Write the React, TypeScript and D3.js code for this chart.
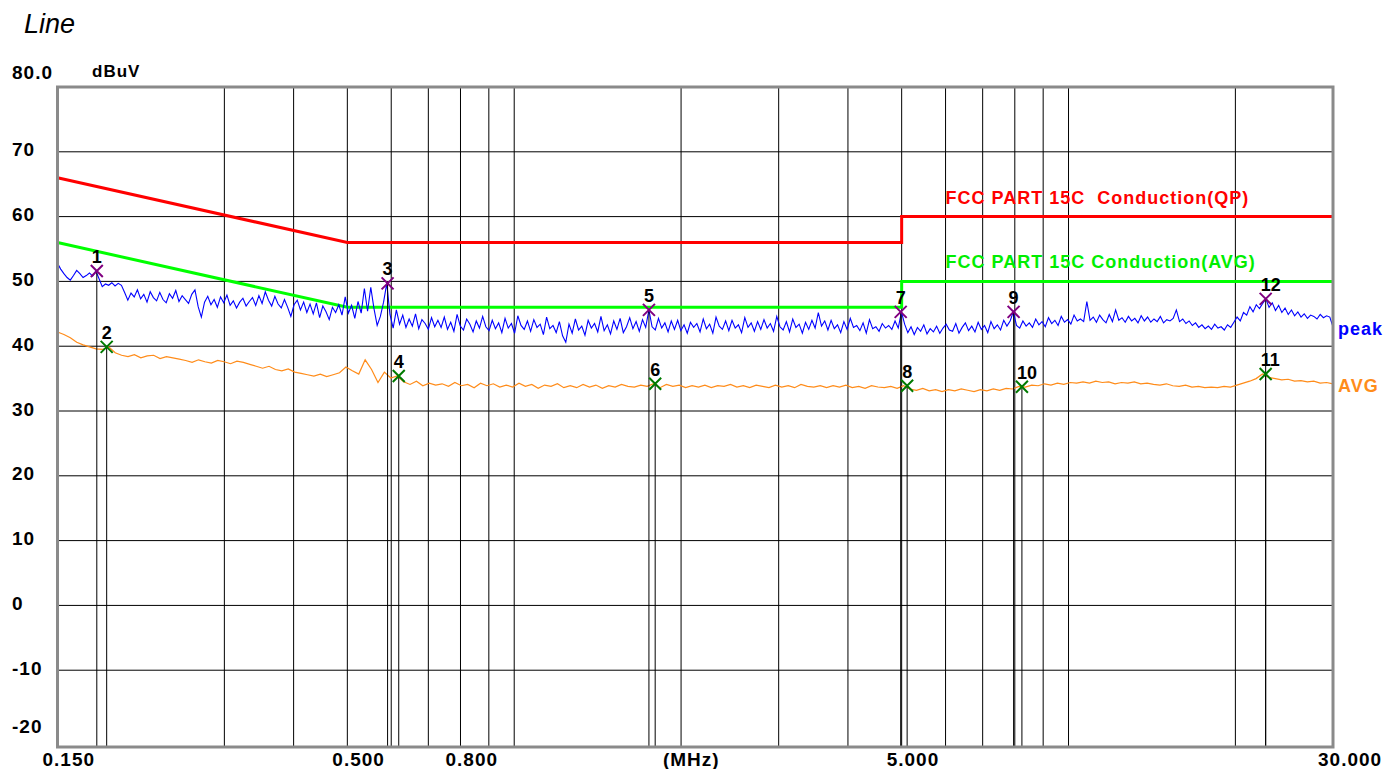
import React, { useEffect, useRef } from 'react';
import * as d3 from 'd3';

// receiver sweep: log-spaced points from 0.15 to 30 MHz
const sweepStart = 0.15;
const sweepStop = 30;

// peak detector trace (dBuV), 400 sweep points
const peakTrace = [
  52.8, 51.9, 51.2, 50.6, 50.2, 50.9, 51.7, 51.2, 50.6, 50.9, 51.3, 50.8, 51.6, 50.4, 49.2, 49.6, 49.4, 49.8, 49.3, 49.7,
  49.4, 48.3, 47.1, 48.2, 47.6, 48.7, 47.3, 48.0, 46.8, 48.4, 47.5, 47.0, 48.3, 47.2, 46.7, 48.1, 47.4, 48.6, 46.9, 47.8,
  47.2, 46.6, 48.0, 48.7, 46.1, 44.5, 46.8, 47.7, 46.4, 47.2, 46.0, 47.6, 46.7, 47.9, 46.3, 47.0, 45.9, 46.8, 47.4, 46.2,
  46.9, 47.5, 46.3, 47.8, 46.6, 48.4, 47.1, 46.2, 47.7, 46.5, 45.9, 47.2, 46.0, 44.6, 46.4, 47.1, 45.6, 46.8, 45.2, 46.5,
  45.0, 46.7, 44.4, 46.2, 45.3, 44.1, 46.0, 45.2, 46.4, 44.8, 47.6, 45.1, 46.3, 44.3, 46.9, 45.1, 48.9, 45.4, 49.1, 45.8,
  43.2, 44.6, 46.8, 49.7, 44.9, 42.8, 45.6, 43.4, 44.8, 42.9, 44.2, 43.1, 45.0, 42.7, 44.1, 43.5, 42.6, 44.4, 43.0, 44.0,
  42.9, 44.5, 42.6, 43.7, 42.3, 44.9, 43.1, 42.5, 44.2, 43.4, 42.2, 43.9, 42.8, 44.6, 43.0, 42.4, 44.0, 42.7, 43.6, 42.1,
  44.3, 42.8, 43.5, 42.0, 44.7, 43.2, 42.6, 43.9, 42.3, 44.1, 42.9, 43.4, 41.8, 44.5, 42.7, 43.2, 42.1, 43.8, 41.6, 40.6,
  43.4, 42.0, 44.2, 42.5, 43.1, 41.7, 44.0, 42.8, 43.5, 42.2, 44.6, 42.4, 43.3, 41.9, 43.9, 42.6, 44.3, 42.1, 43.0, 44.4,
  42.7, 43.8, 42.3, 44.1, 42.9, 45.6, 43.0, 42.5, 44.3, 42.8, 43.6, 42.2, 43.9, 42.6, 44.0, 42.4, 43.3, 42.0, 43.7, 42.9,
  43.5, 42.2, 44.2, 42.7, 43.4, 42.0, 44.5, 43.1, 42.6, 43.9, 42.4, 44.0, 42.8, 43.3, 42.1, 44.4, 42.9, 43.6, 42.3, 43.8,
  42.6, 44.1, 42.8, 43.5, 42.3, 44.6, 43.0, 42.5, 43.8, 42.2, 44.2, 42.9, 43.4, 42.0, 43.7, 42.6, 44.0, 42.8, 45.2, 43.1,
  43.9, 42.5, 44.0, 42.7, 43.3, 42.1, 43.8, 42.6, 44.3, 42.9, 43.2, 42.4, 43.6, 42.0, 44.1, 42.7, 43.0, 42.3, 43.5, 42.8,
  43.2, 42.6, 43.9, 42.8, 45.3, 43.4, 42.1, 43.0, 41.8, 42.9, 42.3, 43.3, 41.9, 42.7, 42.2, 43.1, 42.0, 42.8, 43.4, 42.5,
  42.3, 43.5, 42.0, 42.9, 43.6, 42.4, 43.1, 42.2, 43.7, 42.6, 43.2, 42.1, 43.8, 42.7, 43.3, 42.5, 44.0, 43.1, 43.9, 45.3,
  43.2, 42.8, 43.9, 43.1, 43.6, 42.9, 44.2, 43.3, 43.8, 43.0, 44.4, 43.5, 44.0, 43.2, 44.6, 43.7, 44.1, 43.4, 44.8, 43.9,
  44.2, 43.8, 46.9, 44.0, 44.5, 43.7, 44.8, 44.1, 43.6, 44.9, 43.8, 45.6, 44.0, 44.4, 43.7, 44.6, 43.9, 44.3, 43.6, 44.7,
  43.9, 44.5, 43.7, 44.2, 43.8, 44.6, 43.6, 44.1, 43.9, 44.3, 45.6, 43.8, 44.2, 43.5, 43.9, 43.2, 43.6, 42.9, 43.3, 42.7,
  43.1, 42.6, 43.4, 42.8, 43.0, 42.5, 43.3, 42.9, 43.7, 44.5, 43.9, 45.2, 44.8, 46.1, 45.3, 46.4, 45.8, 46.6, 47.3, 46.0,
  46.7, 45.5, 46.3, 45.2, 45.9, 44.9, 45.6, 44.7, 45.3, 44.5, 45.0, 44.3, 44.8, 44.6, 44.2, 44.9, 44.4, 44.7, 44.5, 43.0,
];

// average detector trace (dBuV), 200 sweep points
const avgTrace = [
  42.2, 41.8, 41.3, 40.6, 40.2, 39.9, 39.6, 39.5, 39.9, 39.0,
  38.6, 38.4, 38.7, 38.2, 38.5, 38.6, 38.1, 38.4, 38.2, 38.0,
  37.8, 37.5, 37.9, 37.6, 37.4, 37.8, 37.6, 37.3, 37.7, 37.5,
  37.2, 36.9, 36.6, 36.9, 36.4, 36.2, 36.5, 36.0, 35.8, 35.6,
  35.4, 35.7, 35.3, 35.6, 35.9, 36.8, 36.2, 35.7, 37.9, 36.4,
  34.4, 36.0, 35.1, 35.4, 34.5, 34.1, 34.6, 33.9, 34.3, 34.0,
  34.2, 33.8, 34.4, 33.9, 34.1, 33.6, 34.3, 33.9, 34.2, 33.7,
  34.0, 33.7, 34.3, 33.8, 34.1, 33.5, 34.0, 33.8, 34.2, 33.6,
  33.9, 33.6, 34.1, 33.7, 34.0, 33.5, 33.9, 33.7, 34.1, 33.8,
  33.7, 34.0, 33.8, 34.2, 33.6, 34.1, 33.8, 34.0, 33.6, 33.9,
  33.7, 34.0, 33.6, 33.9, 33.8, 34.1, 33.7, 33.9, 33.6, 34.0,
  33.8, 33.6, 34.0, 33.7, 33.9, 33.6, 34.1, 33.8, 33.7, 33.9,
  33.6, 33.9, 33.7, 34.0, 33.6, 33.8, 33.5, 33.9, 33.7, 33.6,
  33.8, 33.5, 33.9, 33.4, 33.2, 33.5, 33.1, 33.3, 33.0, 33.3,
  33.1, 33.4, 33.2, 33.0, 33.3, 33.1, 33.4, 33.2, 33.5, 33.4,
  33.8, 33.7, 34.0, 33.9, 34.2, 34.0, 34.3, 34.1, 34.4, 34.3,
  34.5, 34.3, 34.6, 34.4, 34.5, 34.2, 34.4, 34.3, 34.5, 34.2,
  34.3, 34.1, 34.0, 34.2, 33.9, 33.8, 34.0, 33.7, 33.8, 33.6,
  33.7, 33.6, 33.8, 33.7, 34.0, 34.3, 34.6, 35.0, 35.7, 35.2,
  35.0, 34.8, 34.9, 34.6, 34.7, 34.5, 34.6, 34.3, 34.4, 34.2,
];

// FCC Part 15C conducted limits
const qpLimitFreq = [0.15, 0.5, 5, 5, 30];
const qpLimitLevel = [66, 56, 56, 60, 60];
const avgLimitFreq = [0.15, 0.5, 5, 5, 30];
const avgLimitLevel = [56, 46, 46, 50, 50];

// markers
const markerNo = [1, 2, 3, 4, 5, 6, 7, 8, 9, 10, 11, 12];
const markerFreq = [0.1766, 0.184, 0.591, 0.619, 1.75, 1.796, 4.98, 5.115, 7.96, 8.24, 22.68, 22.68];
const markerLevel = [51.6, 39.9, 49.7, 35.4, 45.6, 34.2, 45.3, 33.9, 45.3, 33.75, 35.7, 47.3];
const markerDetector = ['pk', 'av', 'pk', 'av', 'pk', 'av', 'pk', 'av', 'pk', 'av', 'av', 'pk'];

const yTickValues = [80, 70, 60, 50, 40, 30, 20, 10, 0, -10, -20];
const yGridValues = [70, 60, 50, 40, 30, 20, 10, 0, -10];
const xGridValues = [0.3, 0.4, 0.5, 0.6, 0.7, 0.8, 0.9, 1, 2, 3, 4, 5, 6, 7, 8, 9, 10, 20];
const xTickValues = [0.15, 0.5, 0.8, 5, 30];
const xTickLabels = ['0.150', '0.500', '0.800', '5.000', '30.000'];

const W = 1384;
const H = 769;
const FONT = '"Liberation Sans", Arial, sans-serif';

const App: React.FC = () => {
  const svgRef = useRef<SVGSVGElement>(null);

  useEffect(() => {
    if (!svgRef.current) return;
    const svg = d3.select(svgRef.current);
    svg.selectAll('*').remove();

    const left = 57.5, right = 1333, top = 87, bottom = 747;

    const x = d3.scaleLog().domain([sweepStart, sweepStop]).range([left, right]);
    const y = d3.scaleLinear().domain([-21.85, 80]).range([bottom, top]);

    const sweepOf = (n: number) =>
      d3.range(n).map(i => sweepStart * Math.pow(sweepStop / sweepStart, i / (n - 1)));
    const peakSweep = sweepOf(peakTrace.length);
    const avgSweep = sweepOf(avgTrace.length);

    // grid
    svg.append('g')
      .selectAll('line')
      .data(yGridValues)
      .enter()
      .append('line')
      .attr('x1', left)
      .attr('x2', right)
      .attr('y1', d => y(d))
      .attr('y2', d => y(d))
      .attr('stroke', '#000')
      .attr('stroke-width', 1);

    svg.append('g')
      .selectAll('line')
      .data(xGridValues)
      .enter()
      .append('line')
      .attr('x1', d => x(d))
      .attr('x2', d => x(d))
      .attr('y1', top)
      .attr('y2', bottom)
      .attr('stroke', '#000')
      .attr('stroke-width', 1);

    // limit lines
    const limitLine = d3.line<[number, number]>()
      .x(d => x(d[0]))
      .y(d => y(d[1]));

    svg.append('path')
      .attr('d', limitLine(qpLimitFreq.map((f, i) => [f, qpLimitLevel[i]] as [number, number])))
      .attr('fill', 'none')
      .attr('stroke', '#ff0000')
      .attr('stroke-width', 3);

    svg.append('path')
      .attr('d', limitLine(avgLimitFreq.map((f, i) => [f, avgLimitLevel[i]] as [number, number])))
      .attr('fill', 'none')
      .attr('stroke', '#00ff00')
      .attr('stroke-width', 3);

    // traces
    svg.append('path')
      .attr('d', d3.line<number>().x((_, i) => x(avgSweep[i])).y(d => y(d))(avgTrace))
      .attr('fill', 'none')
      .attr('stroke', '#ff8c1a')
      .attr('stroke-width', 1.2);

    svg.append('path')
      .attr('d', d3.line<number>().x((_, i) => x(peakSweep[i])).y(d => y(d))(peakTrace))
      .attr('fill', 'none')
      .attr('stroke', '#0000ff')
      .attr('stroke-width', 1.1);

    // marker drop lines
    svg.append('g')
      .selectAll('line')
      .data(markerNo)
      .enter()
      .append('line')
      .attr('x1', (_, i) => x(markerFreq[i]))
      .attr('x2', (_, i) => x(markerFreq[i]))
      .attr('y1', (_, i) => y(markerLevel[i]))
      .attr('y2', bottom)
      .attr('stroke', '#000')
      .attr('stroke-width', 1);

    // marker crosses + numbers
    const mk = svg.append('g')
      .selectAll('g')
      .data(markerNo)
      .enter()
      .append('g')
      .attr('transform', (_, i) => `translate(${x(markerFreq[i])},${y(markerLevel[i])})`);

    mk.append('path')
      .attr('d', 'M-6,-6L6,6M-6,6L6,-6')
      .attr('stroke', (_, i) => (markerDetector[i] === 'pk' ? '#800080' : '#007a00'))
      .attr('stroke-width', 2)
      .attr('fill', 'none');

    mk.append('text')
      .attr('x', -5)
      .attr('y', -8)
      .attr('font-family', FONT)
      .attr('font-size', 18)
      .attr('font-weight', 'bold')
      .attr('fill', '#000')
      .text(d => String(d));

    // frame
    svg.append('rect')
      .attr('x', left)
      .attr('y', top)
      .attr('width', right - left)
      .attr('height', bottom - top)
      .attr('fill', 'none')
      .attr('stroke', '#8a8a8a')
      .attr('stroke-width', 3);

    // y tick labels
    svg.append('g')
      .selectAll('text')
      .data(yTickValues)
      .enter()
      .append('text')
      .attr('x', 12)
      .attr('y', d => y(d) + (d === 80 ? -8 : d === -20 ? -2 : 4.5))
      .attr('font-family', FONT)
      .attr('font-size', 19)
      .attr('font-weight', 'bold')
      .style('letter-spacing', '1px')
      .attr('fill', '#000')
      .text(d => (d === 80 ? '80.0' : String(d)));

    // x tick labels
    svg.append('g')
      .selectAll('text')
      .data(xTickValues)
      .enter()
      .append('text')
      .attr('x', d => x(d) - 15)
      .attr('y', 766)
      .attr('font-family', FONT)
      .attr('font-size', 19)
      .attr('font-weight', 'bold')
      .style('letter-spacing', '1px')
      .attr('fill', '#000')
      .text((_, i) => xTickLabels[i]);

    svg.append('text')
      .attr('x', (left + right) / 2 - 4)
      .attr('y', 766)
      .attr('text-anchor', 'middle')
      .attr('font-family', FONT)
      .attr('font-size', 19)
      .attr('font-weight', 'bold')
      .style('letter-spacing', '1px')
      .text('(MHz)');

    svg.append('text')
      .attr('x', 92)
      .attr('y', 77)
      .attr('font-family', FONT)
      .attr('font-size', 17)
      .attr('font-weight', 'bold')
      .style('letter-spacing', '1px')
      .text('dBuV');

    // title
    svg.append('text')
      .attr('x', 24)
      .attr('y', 33)
      .attr('font-family', FONT)
      .attr('font-size', 27)
      .attr('font-style', 'italic')
      .text('Line');

    // limit legends
    svg.append('text')
      .attr('x', x(6))
      .attr('y', y(qpLimitLevel[4] + 2))
      .attr('font-family', FONT)
      .attr('font-size', 18)
      .attr('font-weight', 'bold')
      .style('letter-spacing', '1px')
      .style('white-space', 'pre')
      .attr('fill', '#ff0000')
      .text('FCC PART 15C  Conduction(QP)');

    svg.append('text')
      .attr('x', x(6))
      .attr('y', y(avgLimitLevel[4] + 2))
      .attr('font-family', FONT)
      .attr('font-size', 18)
      .attr('font-weight', 'bold')
      .style('letter-spacing', '1px')
      .style('white-space', 'pre')
      .attr('fill', '#00ee00')
      .text('FCC PART 15C Conduction(AVG)');

    // trace names at right end
    svg.append('text')
      .attr('x', right + 5)
      .attr('y', y(peakTrace[peakTrace.length - 1]) + 8.5)
      .attr('font-family', FONT)
      .attr('font-size', 18)
      .attr('font-weight', 'bold')
      .style('letter-spacing', '1px')
      .attr('fill', '#0000ff')
      .text('peak');

    svg.append('text')
      .attr('x', right + 5)
      .attr('y', y(avgTrace[avgTrace.length - 1]) + 8.5)
      .attr('font-family', FONT)
      .attr('font-size', 18)
      .attr('font-weight', 'bold')
      .style('letter-spacing', '1px')
      .attr('fill', '#ff8c1a')
      .text('AVG');
  }, []);

  return (
    <svg
      ref={svgRef}
      width={W}
      height={H}
      style={{ position: 'absolute', left: 0, top: 0, background: '#fff' }}
    />
  );
};

export default App;
